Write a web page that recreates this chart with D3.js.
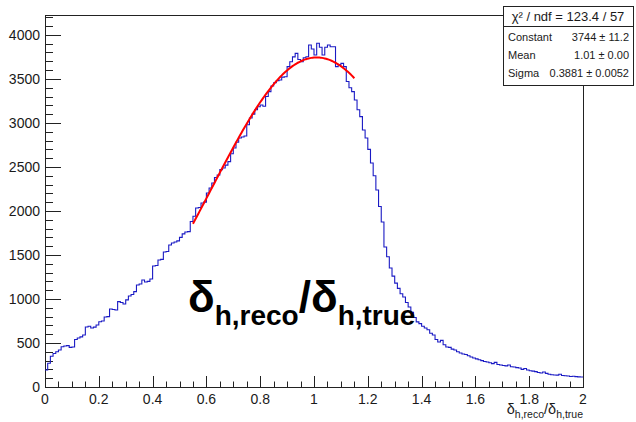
<!DOCTYPE html>
<html>
<head>
<meta charset="utf-8">
<script src="https://cdn.jsdelivr.net/npm/d3@7"></script>
<style>
  body { margin: 0; background: #fff; }
  text { font-family: "Liberation Sans", Arial, Helvetica, sans-serif; fill: #1a1a1a; }
</style>
</head>
<body>
<div id="chart"></div>
<script>
// histogram: 200 bins over [0, 2]
var xRange = [0, 2];
var binWidth = 0.01;
var counts = [
  193, 270, 350, 380, 400, 420, 458, 465, 470, 450,
  455, 540, 556, 570, 590, 682, 690, 670, 680, 704,
  742, 750, 795, 800, 886, 880, 875, 970, 960, 943,
  990, 1034, 1050, 1083, 1159, 1170, 1216, 1193, 1200, 1227,
  1375, 1380, 1443, 1450, 1534, 1540, 1613, 1636, 1647, 1660,
  1700, 1740, 1760, 1765, 1880, 1940, 2033, 2040, 2090, 2100,
  2204, 2260, 2318, 2380, 2408, 2470, 2488, 2520, 2560, 2650,
  2715, 2780, 2829, 2840, 2851, 2980, 3056, 3100, 3150, 3184,
  3204, 3190, 3300, 3355, 3420, 3457, 3480, 3488, 3520, 3525,
  3640, 3695, 3750, 3790, 3720, 3695, 3740, 3752, 3885, 3840,
  3772, 3905, 3860, 3772, 3860, 3885, 3866, 3866, 3640, 3660,
  3677, 3640, 3470, 3400, 3355, 3260, 3150, 3071, 2920, 2829,
  2700, 2545, 2400, 2238, 2050, 1875, 1590, 1480, 1352, 1260,
  1180, 1120, 1060, 1022, 960, 909, 850, 790, 740, 720,
  690, 670, 650, 610, 590, 540, 511, 530, 480, 455,
  450, 430, 420, 400, 386, 375, 370, 355, 340, 330,
  320, 310, 300, 290, 284, 275, 265, 280, 255, 250,
  245, 240, 250, 230, 227, 220, 215, 200, 210, 193,
  185, 180, 175, 165, 159, 170, 155, 145, 140, 136,
  135, 145, 130, 128, 125, 120, 122, 118, 115, 114
];
var yMax = 4226;

// gaus fit, shown in the stats box
var fitParams = [3744, 1.01, 0.3881];   // constant, mean, sigma
var fitRange = [0.55, 1.15];
var statsHeader = "\u03c7\u00b2 / ndf = 123.4 / 57";
var statsNames = ["Constant", "Mean", "Sigma"];
var statsValues = ["3744 \u00b1 11.2", "1.01 \u00b1 0.00", "0.3881 \u00b1 0.0052"];

var xMajor = d3.range(0, 2.0001, 0.2);
var xMinor = d3.range(0, 2.0001, 0.05);
var yMajor = d3.range(0, 4001, 500);
var yMinor = d3.range(0, yMax, 100);

var W = 636, H = 422;
var frame = {left: 45, right: 583, top: 15, bottom: 387};

var svg = d3.select("#chart")
  .append("svg")
    .attr("width", W)
    .attr("height", H);

var x = d3.scaleLinear().domain(xRange).range([frame.left, frame.right]);
var y = d3.scaleLinear().domain([0, yMax]).range([frame.bottom, frame.top]);

// frame
svg.append("rect")
  .attr("x", frame.left + 0.5)
  .attr("y", frame.top + 0.5)
  .attr("width", frame.right - frame.left)
  .attr("height", frame.bottom - frame.top)
  .attr("fill", "none")
  .attr("stroke", "#222")
  .attr("stroke-width", 1);

// x ticks (drawn inside, upward)
var xTickLen = 11;
svg.append("g").selectAll("line")
  .data(xMinor)
  .enter().append("line")
    .attr("x1", function(d) { return Math.round(x(d)) + 0.5; })
    .attr("x2", function(d) { return Math.round(x(d)) + 0.5; })
    .attr("y1", frame.bottom)
    .attr("y2", function(d) {
      var isMajor = Math.abs(d / 0.2 - Math.round(d / 0.2)) < 1e-6;
      return frame.bottom - (isMajor ? xTickLen : xTickLen / 2);
    })
    .attr("stroke", "#222");

svg.append("g").selectAll("text")
  .data(xMajor)
  .enter().append("text")
    .attr("x", function(d) { return x(d); })
    .attr("y", 404)
    .attr("text-anchor", "middle")
    .style("font-size", "14px")
    .text(function(d) { return d3.format("~g")(+d.toFixed(1)); });

// y ticks (drawn inside, rightward)
var yTickLen = 16;
svg.append("g").selectAll("line")
  .data(yMinor)
  .enter().append("line")
    .attr("x1", frame.left)
    .attr("x2", function(d) { return frame.left + (d % 500 === 0 ? yTickLen : yTickLen / 2); })
    .attr("y1", function(d) { return Math.round(y(d)) + 0.5; })
    .attr("y2", function(d) { return Math.round(y(d)) + 0.5; })
    .attr("stroke", "#222");

svg.append("g").selectAll("text")
  .data(yMajor)
  .enter().append("text")
    .attr("x", 40)
    .attr("y", function(d) { return y(d) + 5; })
    .attr("text-anchor", "end")
    .style("font-size", "14px")
    .text(function(d) { return d; });

// histogram outline
var stepPts = counts.map(function(c, i) { return [i * binWidth, c]; });
stepPts.push([xRange[1], counts[counts.length - 1]]);

var step = d3.line()
  .x(function(d) { return x(d[0]); })
  .y(function(d) { return y(d[1]); })
  .curve(d3.curveStepAfter);

svg.append("path")
  .datum(stepPts)
  .attr("d", step)
  .attr("fill", "none")
  .attr("stroke", "#1a1ac4")
  .attr("stroke-width", 1.1);

// fitted gaussian from the stats box parameters
var fitX = d3.range(fitRange[0], fitRange[1] + 1e-9, 0.005);
var gaus = function(v) {
  var t = (v - fitParams[1]) / fitParams[2];
  return fitParams[0] * Math.exp(-0.5 * t * t);
};
svg.append("path")
  .datum(fitX)
  .attr("d", d3.line()
    .x(function(d) { return x(d); })
    .y(function(d) { return y(gaus(d)); }))
  .attr("fill", "none")
  .attr("stroke", "#ff0000")
  .attr("stroke-width", 2);

// big label inside the plot
var big = svg.append("text")
  .attr("x", 188)
  .attr("y", 312)
  .style("font-weight", "bold")
  .style("font-size", "44px")
  .style("fill", "#000");
big.append("tspan").text("\u03b4");
big.append("tspan").attr("dy", 13).style("font-size", "28px").text("h,reco");
big.append("tspan").attr("dy", -13).text("/\u03b4");
big.append("tspan").attr("dy", 13).style("font-size", "28px").text("h,true");

// axis title, bottom right
var xt = svg.append("text")
  .attr("x", frame.right)
  .attr("y", 414)
  .attr("text-anchor", "end")
  .style("font-size", "14.5px");
xt.append("tspan").text("\u03b4");
xt.append("tspan").attr("dy", 3.5).style("font-size", "10.5px").text("h,reco");
xt.append("tspan").attr("dy", -3.5).text("/\u03b4");
xt.append("tspan").attr("dy", 3.5).style("font-size", "10.5px").text("h,true");

// stats box
var sb = {left: 503, top: 6, right: 633, bottom: 85};
var stats = svg.append("g");
stats.append("rect")
  .attr("x", sb.left + 0.5)
  .attr("y", sb.top + 0.5)
  .attr("width", sb.right - sb.left)
  .attr("height", sb.bottom - sb.top)
  .attr("fill", "#fff")
  .attr("stroke", "#222");
stats.append("line")
  .attr("x1", sb.left).attr("x2", sb.right)
  .attr("y1", 26.5).attr("y2", 26.5)
  .attr("stroke", "#222");
stats.append("text")
  .attr("x", (sb.left + sb.right) / 2)
  .attr("y", 21)
  .attr("text-anchor", "middle")
  .style("font-size", "13px")
  .text(statsHeader);
statsNames.forEach(function(name, i) {
  var by = 41 + i * 18;
  stats.append("text")
    .attr("x", sb.left + 5)
    .attr("y", by)
    .style("font-size", "11px")
    .text(name);
  stats.append("text")
    .attr("x", sb.right - 4)
    .attr("y", by)
    .attr("text-anchor", "end")
    .style("font-size", "11px")
    .text(statsValues[i]);
});
</script>
</body>
</html>
